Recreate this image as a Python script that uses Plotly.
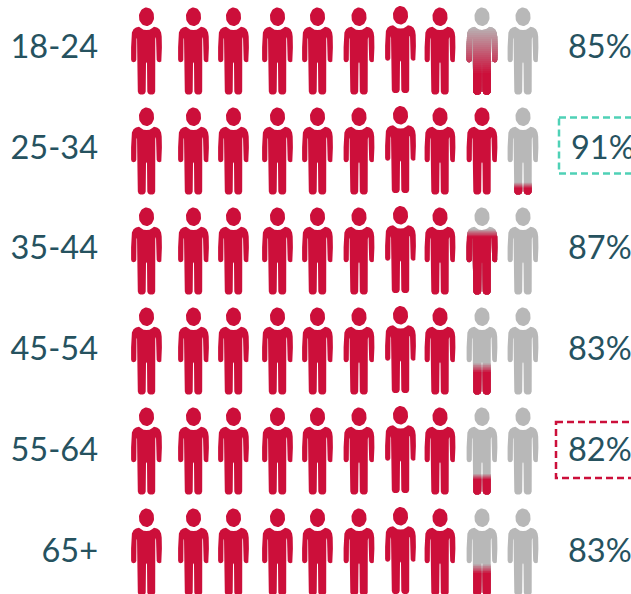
import math
import plotly.graph_objects as go

age_groups = ["18-24", "25-34", "35-44", "45-54", "55-64", "65+"]
percent_values = [85, 91, 87, 83, 82, 83]
people_per_row = 10
highlight_teal_row = "25-34"
highlight_red_row = "55-64"

# layout (pixel-scale axes)
W, H = 631, 594
COL_X = [146.5, 193.5, 233.5, 277.5, 317.5, 359, 400.5, 440, 482, 523]
COL_DY = [0, 0, 0, 0, 0, 0, -1.5, 0, 0, 0]
ROW_TOP = [7.5, 107.5, 207.5, 307.5, 407.5, 508.5]
ROW_MID = [50, 151, 251, 352, 453, 554]
BOX_MID = [47, 148, 248, 349, 450, 551]
FADE = [24, 3, 4, 5, 3, 5]   # half width of the fade per row
RED, GREY = (204, 15, 58), (184, 184, 184)
TEXT = "#26525f"

half = [(0, 22.5), (3, 22.2), (5.5, 20.8), (7.5, 19.2), (10.5, 20), (13, 21.8), (14.6, 25), (15.2, 29),
        (15.4, 40), (15.4, 52), (14.8, 54), (13, 54.8), (11.2, 54.2), (10.2, 52.5), (10, 32),
        (9.5, 30), (9.1, 30), (8.8, 32), (8.7, 84), (7.8, 86.3), (6.2, 87), (3.4, 87), (1.6, 86),
        (0.8, 84), (0.5, 56), (0, 54.5)]
BODY = half + [(-x, y) for x, y in reversed(half[1:-1])]
HEAD = [(7.6 * math.sin(a * math.pi / 20), 9.3 - 9.3 * math.cos(a * math.pi / 20)) for a in range(40)]


def clip_below(poly, ycut):
    out = []
    for i, p in enumerate(poly):
        q = poly[(i + 1) % len(poly)]
        if p[1] >= ycut:
            out.append(p)
        if (p[1] >= ycut) != (q[1] >= ycut):
            t = (ycut - p[1]) / (q[1] - p[1])
            out.append((p[0] + t * (q[0] - p[0]), ycut))
    return out


def mix(t):
    return "rgb(%d,%d,%d)" % tuple(round(g + (r - g) * t) for r, g in zip(RED, GREY))


def add_poly(xs, ys, poly, cx, top):
    if len(poly) < 3:
        return
    xs.extend(cx + p[0] for p in poly)
    ys.extend(top + p[1] for p in poly)
    xs.append(cx + poly[0][0])
    ys.append(top + poly[0][1])
    xs.append(None)
    ys.append(None)


def fill_trace(xs, ys, color):
    return go.Scatter(x=xs, y=ys, mode="lines", fill="toself", fillcolor=color,
                      line=dict(width=0, color=color), hoverinfo="skip", showlegend=False)


fig = go.Figure()
rx, ry, gx, gy = [], [], [], []
partials = []
for r, pct in enumerate(percent_values):
    filled = pct / 100 * people_per_row
    for c in range(people_per_row):
        cx, top = COL_X[c], ROW_TOP[r] + COL_DY[c]
        share = min(max(filled - c, 0), 1)
        is_red = share >= 1
        add_poly(rx if is_red else gx, ry if is_red else gy, HEAD, cx, top)
        add_poly(rx if is_red else gx, ry if is_red else gy, BODY, cx, top)
        if 0 < share < 1:
            partials.append((cx, top, share, FADE[r]))

fig.add_trace(fill_trace(gx, gy, mix(0)))
fig.add_trace(fill_trace(rx, ry, mix(1)))

for cx, top, share, fade in partials:
    edge = 87 * (1 - share)
    steps = 24 if fade > 6 else 6
    for k in range(steps):
        t = (k + 1) / steps
        ycut = edge - fade + 2 * fade * k / steps
        xs, ys = [], []
        add_poly(xs, ys, clip_below(BODY, ycut), cx, top)
        add_poly(xs, ys, clip_below(HEAD, ycut), cx, top)
        fig.add_trace(fill_trace(xs, ys, mix(t)))

fig.add_trace(go.Scatter(x=[98] * len(age_groups), y=ROW_MID, text=age_groups, mode="text",
                         textposition="middle left", cliponaxis=True, hoverinfo="skip", showlegend=False,
                         textfont=dict(family="Lato", size=32.5, color=TEXT)))
fig.add_trace(go.Scatter(x=[571 if a == highlight_teal_row else 568 for a in age_groups], y=ROW_MID,
                         text=[f"{v}%" for v in percent_values], mode="text",
                         textposition="middle right", cliponaxis=True, hoverinfo="skip", showlegend=False,
                         textfont=dict(family="Lato", size=32.5, color=TEXT)))

shapes = []
for name, color, x0 in ((highlight_teal_row, "#4fd1b6", 559), (highlight_red_row, "#cc0f3a", 556)):
    mid = BOX_MID[age_groups.index(name)]
    top_off = 30.5 if name == highlight_teal_row else 28
    shapes.append(dict(type="rect", x0=x0, x1=W + 30, y0=mid - top_off, y1=mid - top_off + 56, xref="x", yref="y",
                       line=dict(color=color, width=2.5, dash="7px,4px"), fillcolor="rgba(0,0,0,0)", layer="above"))

fig.update_layout(width=W, height=H, margin=dict(l=0, r=0, t=0, b=0), autosize=False,
                  paper_bgcolor="white", plot_bgcolor="white", shapes=shapes, showlegend=False,
                  xaxis=dict(range=[0, W], visible=False, fixedrange=True),
                  yaxis=dict(range=[H, 0], visible=False, fixedrange=True))
fig.write_html("out.html", config={"displayModeBar": False},
               post_script="document.body.style.margin='0';document.documentElement.style.overflow='hidden';")
